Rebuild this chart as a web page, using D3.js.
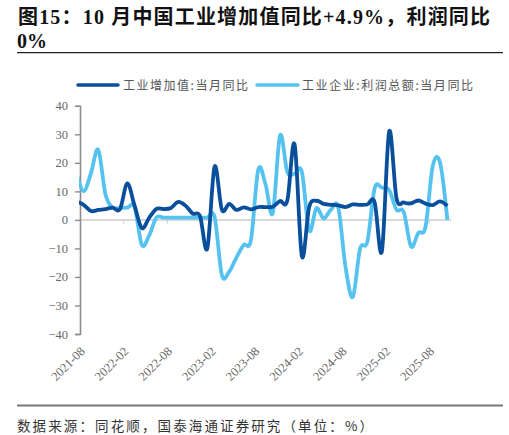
<!DOCTYPE html>
<html><head><meta charset="utf-8">
<script src="https://cdn.jsdelivr.net/npm/d3@7"></script>
<style>
html,body{margin:0;padding:0;background:#fff;}
svg{display:block;}
</style>
</head><body>
<svg id="c" width="509" height="435"></svg>
<script>
// month index -1 = 2021-07 (partly outside plot), 0 = 2021-08 ... 50 = 2025-10
const startIndex = -1;
const tickLabels = ["2021-08","2022-02","2022-08","2023-02","2023-08","2024-02","2024-08","2025-02","2025-08"];
const yTicks = [40,30,20,10,0,-10,-20,-30,-40];
const seriesNames = ["工业增加值:当月同比","工业企业:利润总额:当月同比"];
const ivaValues = [6.4,5.3,3.1,3.5,3.8,4.3,3.8,12.8,5.0,-2.9,0.7,3.9,3.8,4.2,6.3,5.0,2.2,1.3,-10.0,18.7,3.6,5.6,3.5,4.4,3.7,4.5,4.5,4.6,6.6,6.8,26.5,-12.7,4.5,6.7,5.6,5.3,5.1,4.5,5.4,5.3,5.4,6.2,-11.0,31.0,7.7,6.1,5.8,6.8,5.7,5.2,6.5,4.9];
const profitValues = [16.4,10.1,16.3,24.6,9.0,4.2,4.2,4.3,4.5,-8.8,-5.5,0.8,0.8,0.8,0.8,0.8,0.8,0.8,0.8,1.0,-19.3,-18.2,-13.2,-8.8,-7.0,17.6,12.5,2.4,29.6,16.8,16.2,16.8,-3.7,4.1,0.5,3.6,4.4,-16.5,-27.0,-10.1,-7.6,11.0,11.3,10.5,3.6,2.8,-9.3,-4.6,-2.4,19.0,20.0,0.0];
const titleLine1 = "图15：10 月中国工业增加值同比+4.9%，利润同比";
const titleLine2 = "0%";
const sourceText = "数据来源：同花顺，国泰海通证券研究（单位：%）";

const colors = ["#0a4f9c","#55c2f0"];
const svg = d3.select("#c");
const plotLeft = 80, plotRight = 451, plotTop = 105.8, plotBottom = 334;
const nCat = 51;
const x = d3.scaleLinear().domain([-0.5, nCat - 0.5]).range([plotLeft, plotRight]);
const y = d3.scaleLinear().domain([-40, 40]).range([plotBottom, plotTop]);

// title
const cjkSerif = "'Liberation Serif','Noto Sans CJK SC',serif";
svg.append("text").attr("x",18).attr("y",23.5)
  .attr("font-family",cjkSerif).attr("font-weight",700).attr("font-size",20)
  .attr("fill","#111").attr("textLength",472).attr("lengthAdjust","spacing")
  .text(titleLine1);
svg.append("text").attr("x",17).attr("y",47.5)
  .attr("font-family",cjkSerif).attr("font-weight",700).attr("font-size",20)
  .attr("fill","#111").text(titleLine2);
svg.append("line").attr("x1",17).attr("x2",503).attr("y1",52.7).attr("y2",52.7)
  .attr("stroke","#222").attr("stroke-width",1.3);

// legend
const legendPos = [
  {x1:78,x2:118,tx:123,tl:125},
  {x1:257,x2:298,tx:302,tl:171}
];
legendPos.forEach((l,i)=>{
  svg.append("line").attr("x1",l.x1).attr("x2",l.x2).attr("y1",85).attr("y2",85)
    .attr("stroke",colors[i]).attr("stroke-width",3.5).attr("stroke-linecap","round");
  svg.append("text").attr("x",l.tx).attr("y",89.5)
    .attr("font-family","'Noto Sans CJK SC',sans-serif").attr("font-size",12)
    .attr("fill","#555").attr("textLength",l.tl).attr("lengthAdjust","spacing")
    .text(seriesNames[i]);
});

// zero line
svg.append("line").attr("x1",plotLeft).attr("x2",plotRight).attr("y1",y(0)).attr("y2",y(0))
  .attr("stroke","#d9d9d9").attr("stroke-width",2);
// x tick marks at category boundaries every 6
const xtickIdx = d3.range(0, tickLabels.length).map(k => k*6 - 0.5);
svg.append("g").selectAll("line").data(xtickIdx.slice(1)).join("line")
  .attr("x1",d=>x(d)).attr("x2",d=>x(d)).attr("y1",y(0)).attr("y2",y(0)+4)
  .attr("stroke","#d0d0d0").attr("stroke-width",1);

// y axis
const yAxis = d3.axisLeft(y).tickValues(yTicks).tickSize(5).tickPadding(8).tickFormat(d3.format("d"));
const gy = svg.append("g").attr("transform",`translate(${plotLeft},0)`).call(yAxis);
gy.select(".domain").attr("stroke","#8c8c8c").attr("stroke-width",1.6);
gy.selectAll(".tick line").attr("stroke","#8c8c8c").attr("stroke-width",1.4);
gy.selectAll(".tick text").attr("font-family","'Liberation Serif',serif").attr("font-size",12.5)
  .attr("fill","#666").attr("x",-12);

// x labels
svg.append("g").selectAll("text").data(tickLabels).join("text")
  .attr("transform",(d,k)=>`translate(${x(k*6)+2},352) rotate(-45)`)
  .attr("text-anchor","end")
  .attr("font-family","'Liberation Serif',serif").attr("font-size",12.5)
  .attr("fill","#666").text(d=>d);

// lines
svg.append("clipPath").attr("id","clip").append("rect")
  .attr("x",plotLeft-1).attr("y",0).attr("width",plotRight-plotLeft+10).attr("height",435);
const line = d3.line().x(d=>x(d.i)).y(d=>y(d.v)).curve(d3.curveCardinal.tension(0));
[profitValues, ivaValues].forEach((vals,k)=>{
  const data = vals.map((v,j)=>({i:j+startIndex, v}));
  svg.append("path").attr("clip-path","url(#clip)").datum(data)
    .attr("d",line).attr("fill","none")
    .attr("stroke", k===0?colors[1]:colors[0]).attr("stroke-width",3.8)
    .attr("stroke-linejoin","round");
});

// bottom rule and source
svg.append("line").attr("x1",17).attr("x2",503).attr("y1",405.5).attr("y2",405.5)
  .attr("stroke","#777").attr("stroke-width",1.8);
svg.append("text").attr("x",17).attr("y",431)
  .attr("font-family","'Noto Sans CJK SC',sans-serif").attr("font-size",13.5)
  .attr("fill","#333").attr("textLength",356).attr("lengthAdjust","spacing")
  .text(sourceText);
</script>
</body></html>
